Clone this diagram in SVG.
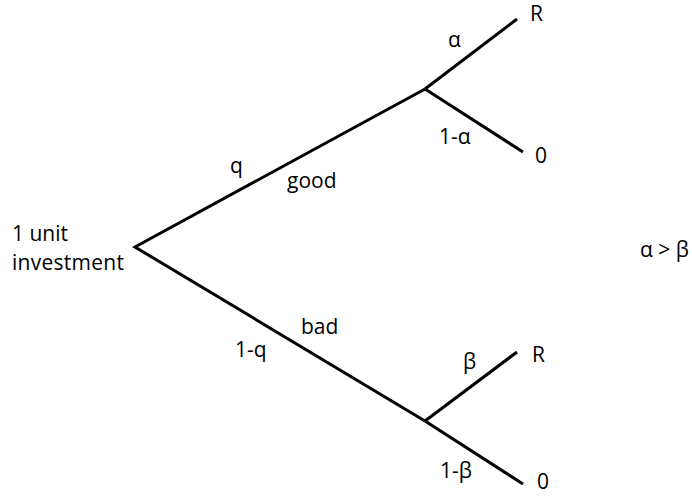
<svg xmlns="http://www.w3.org/2000/svg" width="692" height="497" viewBox="0 0 692 497">
<style>
.e{stroke:#000;stroke-width:3;fill:none;stroke-linecap:butt}
text{font-family:"Open Sans","Liberation Sans",sans-serif;font-size:21px;fill:#000}
</style>
<rect width="692" height="497" fill="#fff"/>
<g id="connectors">
<polyline class="e" points="425,89 135,247 425,421"/>
<line class="e" x1="425" y1="89" x2="517" y2="19"/>
<line class="e" x1="425" y1="89" x2="523" y2="152"/>
<line class="e" x1="425" y1="421" x2="517" y2="352"/>
<line class="e" x1="425" y1="421" x2="523" y2="484"/>
<text x="230" y="173">q</text>
<text x="287" y="188">good</text>
<text x="301" y="334">bad</text>
<text x="235" y="357">1-q</text>
<text x="448" y="47">α</text>
<text x="439" y="144">1-α</text>
<text x="463" y="369">β</text>
<text x="440" y="478">1-β</text>
</g>
<g id="root"><text x="12" y="241">1 unit</text><text x="12" y="270" textLength="112" lengthAdjust="spacing">investment</text></g>
<g id="R1"><text x="530" y="21">R</text></g>
<g id="Z1"><text x="535" y="163">0</text></g>
<g id="R2"><text x="532" y="362">R</text></g>
<g id="Z2"><text x="537" y="489">0</text></g>
<g id="note"><text x="640" y="257">α &gt; β</text></g>
</svg>
